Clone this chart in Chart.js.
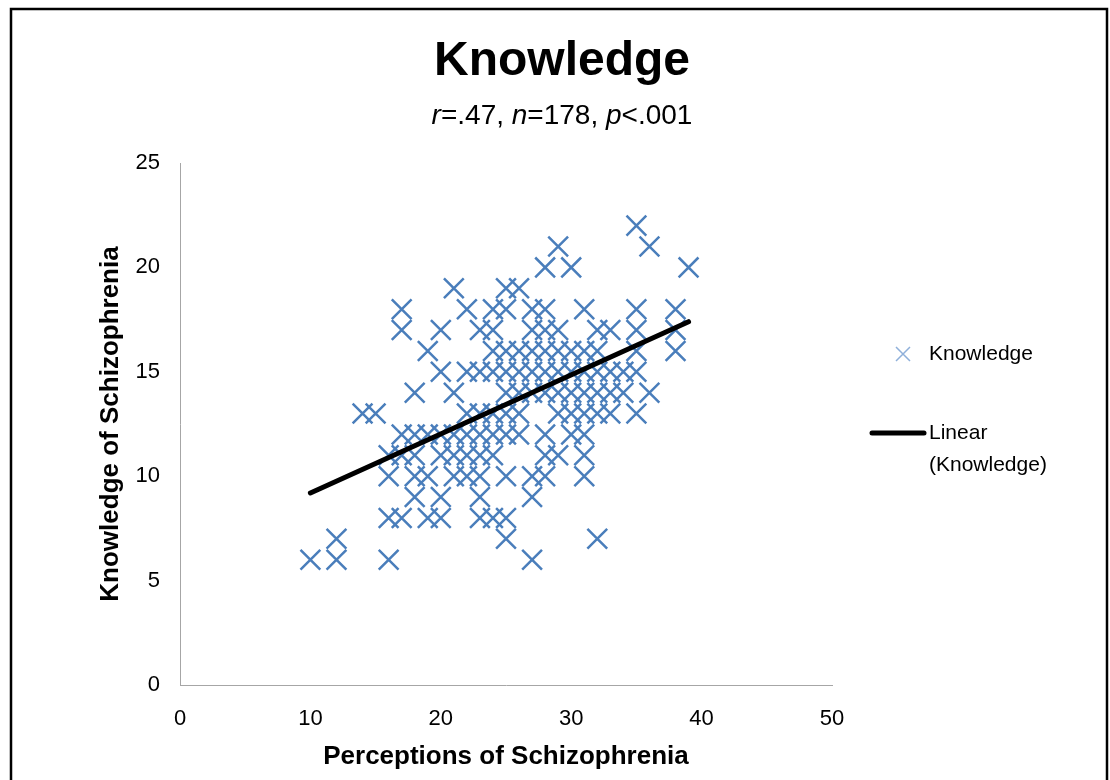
<!DOCTYPE html>
<html>
<head>
<meta charset="utf-8">
<script src="https://cdn.jsdelivr.net/npm/chart.js@4/dist/chart.umd.min.js"></script>
<style>
  html, body { margin: 0; padding: 0; background: #fff; }
  #wrap { width: 1110px; height: 780px; position: relative; }
</style>
</head>
<body>
<div id="wrap"><canvas id="scatter-chart" width="1110" height="780"></canvas></div>
<script>
// perceptions (x) / knowledge (y) scores
const perceptions = [
  10, 12, 12, 14, 15,
  16, 16, 16, 16,
  17, 17, 17, 17, 17,
  18, 18, 18, 18, 18,
  19, 19, 19, 19,
  20, 20, 20, 20, 20, 20,
  21, 21, 21, 21, 21,
  22, 22, 22, 22, 22, 22,
  23, 23, 23, 23, 23, 23, 23, 23,
  24, 24, 24, 24, 24, 24, 24, 24,
  25, 25, 25, 25, 25, 25, 25, 25, 25, 25,
  26, 26, 26, 26, 26, 26,
  27, 27, 27, 27, 27, 27, 27, 27,
  28, 28, 28, 28, 28, 28, 28, 28, 28,
  29, 29, 29, 29, 29, 29, 29,
  30, 30, 30, 30, 30, 30,
  31, 31, 31, 31, 31, 31, 31, 31,
  32, 32, 32, 32, 32, 32,
  33, 33, 33, 33,
  34, 34,
  35, 35, 35, 35, 35, 35,
  36, 36,
  38, 38, 38,
  39
];
const knowledge = [
  6, 6, 7, 13, 13,
  6, 8, 10, 11,
  8, 11, 12, 17, 18,
  9, 10, 11, 12, 14,
  8, 10, 12, 16,
  8, 9, 11, 12, 15, 17,
  10, 11, 12, 14, 19,
  10, 11, 12, 13, 15, 18,
  8, 9, 10, 11, 12, 13, 15, 17,
  8, 11, 12, 13, 15, 16, 17, 18,
  7, 8, 10, 12, 13, 14, 15, 16, 18, 19,
  12, 13, 14, 15, 16, 19,
  6, 9, 10, 14, 15, 16, 17, 18,
  10, 11, 12, 14, 15, 16, 17, 18, 20,
  11, 13, 14, 15, 16, 17, 21,
  12, 13, 14, 15, 16, 20,
  10, 11, 12, 13, 14, 15, 16, 18,
  7, 13, 14, 15, 16, 17,
  13, 14, 15, 17,
  14, 15,
  13, 15, 16, 17, 18, 22,
  14, 21,
  16, 17, 18,
  20
];
// ends of the Excel linear trendline
const trendX = [10, 39];
const trendY = [9.2, 17.4];

const xTicks = [0, 10, 20, 30, 40, 50];
const yTicks = [0, 5, 10, 15, 20, 25];

const FONT = '"Liberation Sans", Arial, sans-serif';
const BLUE = '#4a7ebb';

const points = perceptions.map((p, i) => ({ x: p, y: knowledge[i] }));
const trend = trendX.map((x, i) => ({ x: x, y: trendY[i] }));

// border, subtitle with italic letters, and the legend at the right
const decorations = {
  id: 'decorations',
  beforeDraw(chart) {
    const ctx = chart.ctx;
    ctx.save();
    ctx.fillStyle = '#fff';
    ctx.fillRect(0, 0, chart.width, chart.height);
    ctx.restore();
  },
  afterDraw(chart) {
    const ctx = chart.ctx;
    ctx.save();
    ctx.strokeStyle = '#000';
    ctx.lineWidth = 2.5;
    ctx.strokeRect(11, 9, 1096, 800);

    ctx.fillStyle = '#000';
    ctx.textBaseline = 'alphabetic';
    ctx.font = 'bold 48px ' + FONT;
    ctx.textAlign = 'center';
    ctx.fillText('Knowledge', 562, 75);

    // subtitle: r=.47, n=178, p<.001 with italic letters
    const parts = [['r', true], ['=.47, ', false], ['n', true], ['=178, ', false], ['p', true], ['<.001', false]];
    const size = 28;
    let total = 0;
    for (const [t, it] of parts) {
      ctx.font = (it ? 'italic ' : '') + size + 'px ' + FONT;
      total += ctx.measureText(t).width;
    }
    let x = 562 - total / 2;
    ctx.textAlign = 'left';
    for (const [t, it] of parts) {
      ctx.font = (it ? 'italic ' : '') + size + 'px ' + FONT;
      ctx.fillText(t, x, 124);
      x += ctx.measureText(t).width;
    }

    // legend
    ctx.strokeStyle = '#8fb0da';
    ctx.lineWidth = 1.5;
    ctx.beginPath();
    ctx.moveTo(896, 347); ctx.lineTo(910, 361);
    ctx.moveTo(910, 347); ctx.lineTo(896, 361);
    ctx.stroke();

    ctx.strokeStyle = '#000';
    ctx.lineWidth = 5;
    ctx.lineCap = 'round';
    ctx.beginPath();
    ctx.moveTo(872, 433); ctx.lineTo(924, 433);
    ctx.stroke();

    ctx.font = '21px ' + FONT;
    ctx.textBaseline = 'middle';
    ctx.fillText('Knowledge', 929, 354);
    ctx.fillText('Linear', 929, 433);
    ctx.fillText('(Knowledge)', 929, 465);
    ctx.restore();
  }
};

new Chart(document.getElementById('scatter-chart'), {
  type: 'scatter',
  data: {
    datasets: [
      {
        label: 'Linear (Knowledge)',
        data: trend,
        showLine: true,
        borderColor: '#000',
        borderWidth: 5,
        borderCapStyle: 'round',
        pointRadius: 0,
        order: 0
      },
      {
        label: 'Knowledge',
        data: points,
        pointStyle: 'crossRot',
        pointRadius: 14,
        borderColor: BLUE,
        backgroundColor: BLUE,
        pointBorderWidth: 2.5,
        order: 1
      }
    ]
  },
  plugins: [decorations],
  options: {
    responsive: false,
    animation: false,
    layout: { padding: { left: 0, right: 278, top: 163, bottom: 0 } },
    plugins: {
      legend: { display: false },
      title: { display: false },
      tooltip: { enabled: false }
    },
    scales: {
      x: {
        type: 'linear',
        min: 0,
        max: 50,
        afterFit: s => { s.height = 95; },
        afterBuildTicks: s => { s.ticks = xTicks.map(v => ({ value: v })); },
        grid: { display: false },
        border: { color: '#a6a6a6', width: 1 },
        ticks: { color: '#000', padding: 13, font: { family: FONT, size: 22 } },
        title: {
          display: true,
          text: 'Perceptions of Schizophrenia',
          color: '#000',
          padding: { top: 0, bottom: 8 },
          font: { family: FONT, size: 26, weight: 'bold' }
        }
      },
      y: {
        type: 'linear',
        min: 0,
        max: 25,
        afterFit: s => { s.width = 180; },
        afterBuildTicks: s => { s.ticks = yTicks.map(v => ({ value: v })); },
        grid: { display: false },
        border: { color: '#a6a6a6', width: 1 },
        ticks: { color: '#000', padding: 12, font: { family: FONT, size: 22 } },
        title: {
          display: true,
          text: 'Knowledge of Schizophrenia',
          color: '#000',
          padding: { top: 95, bottom: 0 },
          font: { family: FONT, size: 26, weight: 'bold' }
        }
      }
    }
  }
});
</script>
</body>
</html>
